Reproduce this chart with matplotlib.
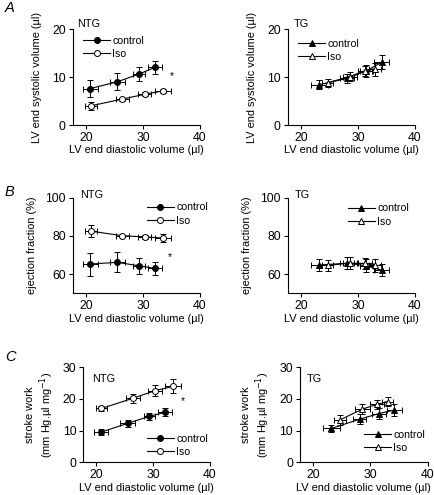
import matplotlib
matplotlib.use("Agg")
import matplotlib.pyplot as plt

plt.rcParams["font.family"] = ["Liberation Sans", "DejaVu Sans"]

# end diastolic volume (x) per group, with SEM
ntg_ctl_edv = [20.8, 25.5, 29.3, 32.1]
ntg_ctl_edv_err = [1.3, 1.3, 1.0, 1.2]
ntg_iso_edv = [20.9, 26.4, 30.3, 33.5]
ntg_iso_edv_err = [1.0, 1.2, 1.2, 1.4]
tg_ctl_edv = [23.2, 28.1, 31.5, 34.2]
tg_ctl_edv_err = [1.5, 1.2, 1.2, 1.3]
tg_iso_edv = [24.7, 28.6, 31.2, 33.0]
tg_iso_edv_err = [1.0, 1.3, 1.2, 1.0]

# A: end systolic volume
ntg_ctl_esv = [7.6, 9.0, 10.6, 12.0]
ntg_ctl_esv_err = [1.7, 1.8, 1.5, 1.3]
ntg_iso_esv = [4.0, 5.4, 6.4, 7.1]
ntg_iso_esv_err = [0.8, 0.3, 0.4, 0.5]
tg_ctl_esv = [8.4, 9.7, 11.3, 13.1]
tg_ctl_esv_err = [0.9, 0.9, 1.2, 1.4]
tg_iso_esv = [8.8, 10.1, 11.3, 11.6]
tg_iso_esv_err = [0.8, 0.9, 1.0, 1.3]

# B: ejection fraction
ntg_ctl_ef = [65.3, 66.2, 64.4, 63.0]
ntg_ctl_ef_err = [6.0, 5.2, 4.3, 3.2]
ntg_iso_ef = [82.5, 80.1, 79.5, 78.9]
ntg_iso_ef_err = [3.0, 0.5, 1.0, 2.0]
tg_ctl_ef = [64.8, 65.7, 64.4, 62.0]
tg_ctl_ef_err = [3.0, 3.2, 3.5, 3.2]
tg_iso_ef = [64.6, 65.8, 65.6, 64.6]
tg_iso_ef_err = [3.0, 3.2, 3.0, 3.5]

# C: stroke work
ntg_ctl_sw = [9.5, 12.3, 14.5, 15.8]
ntg_ctl_sw_err = [1.0, 1.0, 1.0, 1.2]
ntg_iso_sw = [17.0, 20.2, 22.6, 24.0]
ntg_iso_sw_err = [0.8, 1.5, 1.8, 2.2]
tg_ctl_sw = [10.7, 13.6, 15.4, 16.5]
tg_ctl_sw_err = [1.2, 1.6, 1.8, 1.9]
tg_iso_sw = [13.4, 16.8, 18.3, 19.2]
tg_iso_sw_err = [1.5, 1.5, 1.5, 1.5]

XLABEL = "LV end diastolic volume (\u00b5l)"
FS = 7.9


def draw_series(ax, x, xerr, y, yerr, marker, filled, label):
    ax.errorbar(x, y, xerr=xerr, yerr=yerr, fmt="none", ecolor="black",
                elinewidth=0.7, capsize=2.3, capthick=0.7, zorder=2)
    ax.plot(x, y, color="black", lw=0.8, marker=marker, ms=4.3 if marker == "o" else 4.8,
            mfc="black" if filled else "white", mec="black", mew=0.7,
            label=label, zorder=3)


def style_axes(ax, ylim, yticks):
    ax.set_xlim(17.7, 40)
    ax.set_ylim(*ylim)
    ax.set_xticks([20, 30, 40])
    ax.set_yticks(yticks)
    for side in ("top", "right"):
        ax.spines[side].set_visible(False)
    for side in ("left", "bottom"):
        ax.spines[side].set_linewidth(0.8)
    ax.tick_params(direction="out", length=3, width=0.8, labelsize=8.8, pad=2)
    ax.set_xlabel(XLABEL, fontsize=FS, labelpad=1)


def add_legend(ax, x, y):
    ax.legend(loc="upper left", bbox_to_anchor=(x, y), frameon=False, fontsize=7.6,
              handlelength=2.6, handletextpad=0.2, labelspacing=0.3,
              borderpad=0, borderaxespad=0, numpoints=1)


fig = plt.figure(figsize=(4.35, 4.95), dpi=100)
W, H = 435.0, 495.0


def make_axes(left, right, top, bottom):
    return fig.add_axes([left / W, 1 - bottom / H, (right - left) / W, (bottom - top) / H])


# row A
axA1 = make_axes(72.7, 200.0, 29.0, 125.0)
axA2 = make_axes(287.7, 415.0, 29.0, 125.0)
# row B
axB1 = make_axes(72.7, 200.0, 197.7, 293.3)
axB2 = make_axes(287.7, 415.0, 197.7, 293.3)
# row C
axC1 = make_axes(83.3, 210.0, 367.3, 462.3)
axC2 = make_axes(300.0, 427.7, 367.3, 462.3)

# A
draw_series(axA1, ntg_ctl_edv, ntg_ctl_edv_err, ntg_ctl_esv, ntg_ctl_esv_err, "o", True, "control")
draw_series(axA1, ntg_iso_edv, ntg_iso_edv_err, ntg_iso_esv, ntg_iso_esv_err, "o", False, "Iso")
draw_series(axA2, tg_ctl_edv, tg_ctl_edv_err, tg_ctl_esv, tg_ctl_esv_err, "^", True, "control")
draw_series(axA2, tg_iso_edv, tg_iso_edv_err, tg_iso_esv, tg_iso_esv_err, "^", False, "Iso")
for ax in (axA1, axA2):
    style_axes(ax, (0, 20), [0, 10, 20])
    ax.set_ylabel("LV end systolic volume (\u00b5l)", fontsize=FS, labelpad=7)
axA1.text(35.0, 10.2, "*", fontsize=7.5, ha="center", va="center")
add_legend(axA1, 0.08, 0.93)
add_legend(axA2, 0.08, 0.90)

# B
draw_series(axB1, ntg_ctl_edv, ntg_ctl_edv_err, ntg_ctl_ef, ntg_ctl_ef_err, "o", True, "control")
draw_series(axB1, ntg_iso_edv, ntg_iso_edv_err, ntg_iso_ef, ntg_iso_ef_err, "o", False, "Iso")
draw_series(axB2, tg_ctl_edv, tg_ctl_edv_err, tg_ctl_ef, tg_ctl_ef_err, "^", True, "control")
draw_series(axB2, tg_iso_edv, tg_iso_edv_err, tg_iso_ef, tg_iso_ef_err, "^", False, "Iso")
for ax in (axB1, axB2):
    style_axes(ax, (50, 100), [60, 80, 100])
    ax.set_ylabel("ejection fraction (%)", fontsize=FS, labelpad=6)
axB1.text(34.8, 69.0, "*", fontsize=7.5, ha="center", va="center")
add_legend(axB1, 0.58, 0.95)
add_legend(axB2, 0.47, 0.94)

# C
draw_series(axC1, ntg_ctl_edv, ntg_ctl_edv_err, ntg_ctl_sw, ntg_ctl_sw_err, "o", True, "control")
draw_series(axC1, ntg_iso_edv, ntg_iso_edv_err, ntg_iso_sw, ntg_iso_sw_err, "o", False, "Iso")
draw_series(axC2, tg_ctl_edv, tg_ctl_edv_err, tg_ctl_sw, tg_ctl_sw_err, "^", True, "control")
draw_series(axC2, tg_iso_edv, tg_iso_edv_err, tg_iso_sw, tg_iso_sw_err, "^", False, "Iso")
for ax in (axC1, axC2):
    style_axes(ax, (0, 30), [0, 10, 20, 30])
    ax.set_ylabel("stroke work\n(mm Hg.\u00b5l mg$^{-1}$)", fontsize=FS, labelpad=5,
                  linespacing=1.2)
axC1.text(35.2, 19.2, "*", fontsize=7.5, ha="center", va="center")
add_legend(axC1, 0.50, 0.30)
add_legend(axC2, 0.50, 0.34)

# group labels
for ax, name, x, y in [(axA1, "NTG", 0.034, 1.057), (axA2, "TG", 0.05, 1.057),
                       (axB1, "NTG", 0.057, 1.028), (axB2, "TG", 0.057, 1.028),
                       (axC1, "NTG", 0.069, 0.882), (axC2, "TG", 0.055, 0.877)]:
    ax.text(x, y, name, transform=ax.transAxes, fontsize=7.8, ha="left", va="center")

# panel letters
for letter, ypx in [("A", 8), ("B", 192), ("C", 357)]:
    fig.text(5 / W, 1 - ypx / H, letter, fontsize=10.5, style="italic", ha="left", va="center")

fig.savefig("out.png", dpi=100)
